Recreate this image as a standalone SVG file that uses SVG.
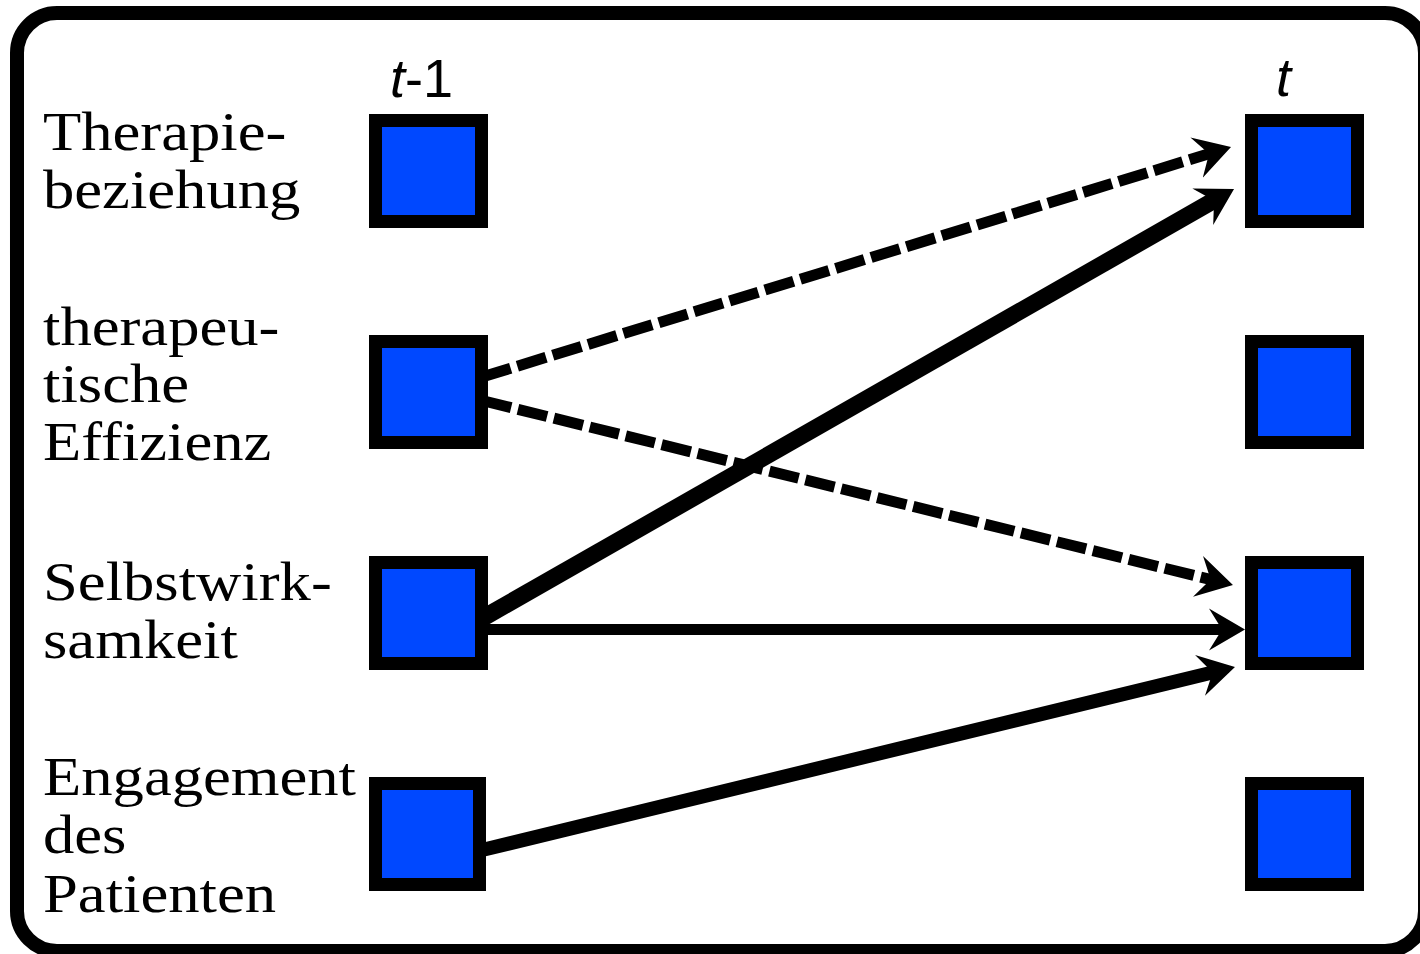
<svg xmlns="http://www.w3.org/2000/svg" width="1420" height="954" viewBox="0 0 1420 954">
  <style>
    .frame { fill: #ffffff; stroke: #000000; stroke-width: 14; }
    .box { fill: #0048ff; stroke: #000000; stroke-width: 13; }
    .label { font-family: "Liberation Serif", "Times New Roman", serif; font-size: 54px; fill: #000000; }
    .time { font-family: "Liberation Sans", Arial, sans-serif; font-size: 54px; fill: #000000; }
    .time .it { font-style: italic; }
    .link { fill: none; stroke: #000000; stroke-linecap: butt; }
    .dashed { stroke-width: 11; stroke-dasharray: 30 7; marker-end: url(#head); }
    .solid { marker-end: url(#head); }
  </style>
  <defs>
    <!-- swept-back arrowhead; the line stops inside the head, 18 px short of the tip -->
    <marker id="head" viewBox="0 0 38 46" refX="18" refY="23" markerWidth="38" markerHeight="46"
            markerUnits="userSpaceOnUse" orient="auto">
      <path d="M36,23 L0,2 L13,23 L0,44 Z" fill="#000000"/>
    </marker>
  </defs>

  <rect class="frame" x="17" y="13" width="1408" height="938" rx="40" ry="40"/>

  <!-- time headers -->
  <text class="time" x="390" y="97"><tspan class="it">t</tspan>-1</text>
  <text class="time" x="1276" y="96"><tspan class="it">t</tspan></text>

  <!-- connectors -->
  <g id="connectors">
    <line class="link dashed" x1="482" y1="377" x2="1213.8" y2="152.3"/>
    <line class="link dashed" x1="482" y1="400.5" x2="1215.5" y2="580.7"/>
    <line class="link solid" x1="482" y1="618.5" x2="1218.4" y2="197.9" stroke-width="17"/>
    <line class="link solid" x1="482" y1="629.5" x2="1227" y2="629.5" stroke-width="11"/>
    <line class="link solid" x1="480" y1="850.5" x2="1217.5" y2="671.2" stroke-width="14"/>
  </g>

  <!-- row labels -->
  <g id="label-therapiebeziehung" transform="translate(43,0) scale(1.16,1)">
    <text class="label" x="0" y="150">Therapie-</text>
    <text class="label" x="0" y="208">beziehung</text>
  </g>
  <g id="label-effizienz" transform="translate(43,0) scale(1.16,1)">
    <text class="label" x="0" y="345">therapeu-</text>
    <text class="label" x="0" y="402">tische</text>
    <text class="label" x="0" y="460">Effizienz</text>
  </g>
  <g id="label-selbstwirksamkeit" transform="translate(43,0) scale(1.16,1)">
    <text class="label" x="0" y="600">Selbstwirk-</text>
    <text class="label" x="0" y="658">samkeit</text>
  </g>
  <g id="label-engagement" transform="translate(43,0) scale(1.16,1)">
    <text class="label" x="0" y="795">Engagement</text>
    <text class="label" x="0" y="853">des</text>
    <text class="label" x="0" y="912">Patienten</text>
  </g>

  <!-- nodes at t-1 -->
  <g id="node-tb-prev"><rect class="box" x="375.5" y="120.5" width="106" height="101"/></g>
  <g id="node-te-prev"><rect class="box" x="375.5" y="341.5" width="106" height="101"/></g>
  <g id="node-sw-prev"><rect class="box" x="375.5" y="562.5" width="106" height="101"/></g>
  <g id="node-ep-prev"><rect class="box" x="375.5" y="783.5" width="104" height="101"/></g>

  <!-- nodes at t -->
  <g id="node-tb-now"><rect class="box" x="1251.5" y="120.5" width="106" height="101"/></g>
  <g id="node-te-now"><rect class="box" x="1251.5" y="341.5" width="106" height="101"/></g>
  <g id="node-sw-now"><rect class="box" x="1251.5" y="562.5" width="106" height="101"/></g>
  <g id="node-ep-now"><rect class="box" x="1251.5" y="783.5" width="106" height="101"/></g>
</svg>
